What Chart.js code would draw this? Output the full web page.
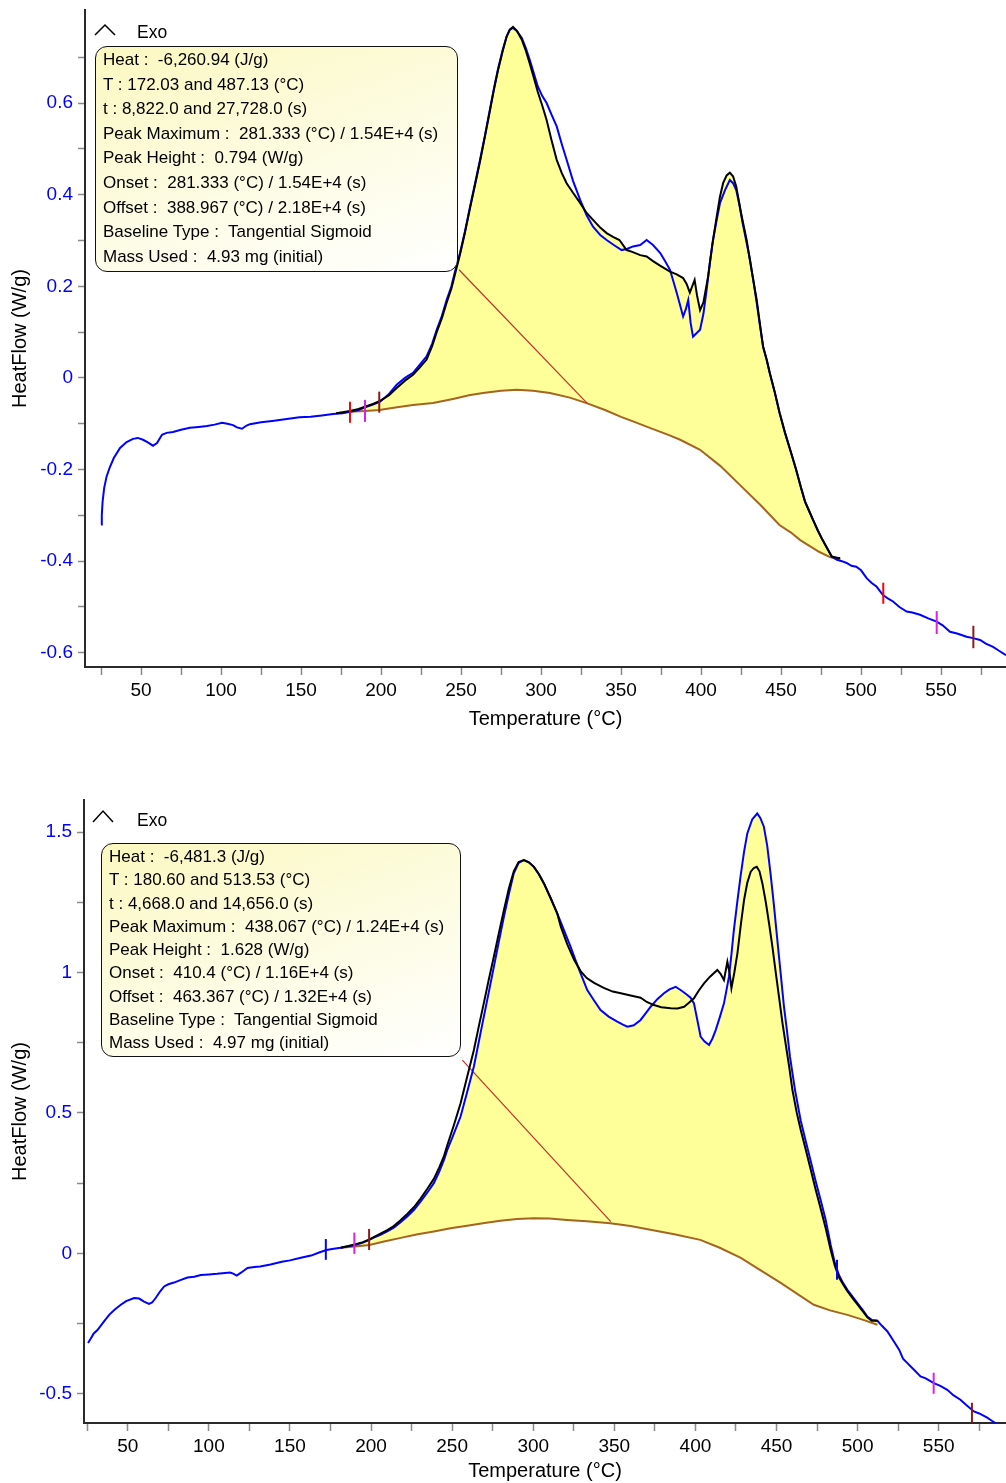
<!DOCTYPE html>
<html>
<head>
<meta charset="utf-8">
<script src="https://cdn.jsdelivr.net/npm/chart.js@4.4.0/dist/chart.umd.min.js"></script>
<style>
  body { margin: 0; background: #fff; width: 1006px; height: 1483px; position: relative; overflow: hidden;
         font-family: "Liberation Sans", Arial, sans-serif; }
  canvas { position: absolute; left: 0; }
  .note { position: absolute; box-sizing: border-box; border: 1.5px solid #111; border-radius: 12px;
          background: linear-gradient(160deg, #fbf8c0 0%, #fdfce4 55%, #ffffff 100%);
          font-size: 17px; color: #000; padding-left: 7px; white-space: nowrap; }
  .exo { position: absolute; font-size: 17.5px; line-height: 20px; }
  svg.caret { position: absolute; left: 0; overflow: visible; }
</style>
</head>
<body>
<canvas id="topChart" width="1006" height="745" style="top:0"></canvas>
<canvas id="botChart" width="1006" height="738" style="top:745px"></canvas>

<svg class="caret" width="30" height="20" style="top:0"><polyline points="95,35 105,25 115,35" fill="none" stroke="#000" stroke-width="1.5"/></svg>
<div class="exo" style="left:137px;top:22px">Exo</div>
<div class="note" style="left:95px;top:46px;width:363px;height:226px;line-height:24.6px;padding-top:1px">
Heat :&nbsp; -6,260.94 (J/g)<br>T : 172.03 and 487.13 (°C)<br>t : 8,822.0 and 27,728.0 (s)<br>Peak Maximum :&nbsp; 281.333 (°C) / 1.54E+4 (s)<br>Peak Height :&nbsp; 0.794 (W/g)<br>Onset :&nbsp; 281.333 (°C) / 1.54E+4 (s)<br>Offset :&nbsp; 388.967 (°C) / 2.18E+4 (s)<br>Baseline Type :&nbsp; Tangential Sigmoid<br>Mass Used :&nbsp; 4.93 mg (initial)
</div>

<svg class="caret" width="30" height="20" style="top:0"><polyline points="93,822 103,811 113,822" fill="none" stroke="#000" stroke-width="1.5"/></svg>
<div class="exo" style="left:137px;top:810px">Exo</div>
<div class="note" style="left:101px;top:843px;width:360px;height:214px;line-height:23.3px;padding-top:1px">
Heat :&nbsp; -6,481.3 (J/g)<br>T : 180.60 and 513.53 (°C)<br>t : 4,668.0 and 14,656.0 (s)<br>Peak Maximum :&nbsp; 438.067 (°C) / 1.24E+4 (s)<br>Peak Height :&nbsp; 1.628 (W/g)<br>Onset :&nbsp; 410.4 (°C) / 1.16E+4 (s)<br>Offset :&nbsp; 463.367 (°C) / 1.32E+4 (s)<br>Baseline Type :&nbsp; Tangential Sigmoid<br>Mass Used :&nbsp; 4.97 mg (initial)
</div>

<script>
// ---- axis ticks ----
var xTicks = [25, 50, 75, 100, 125, 150, 175, 200, 225, 250, 275, 300, 325, 350, 375, 400, 425, 450, 475, 500, 525, 550, 575];
var topYTicks = [-0.6, -0.5, -0.4, -0.3, -0.2, -0.1, 0, 0.1, 0.2, 0.3, 0.4, 0.5, 0.6, 0.7];
var botYTicks = [-0.5, -0.25, 0, 0.25, 0.5, 0.75, 1, 1.25, 1.5];

// ---- top run: [temperature °C, heat flow W/g] ----
var topBlue = [
  [25, -0.32], [25.5, -0.30], [26, -0.27], [27, -0.24], [28.5, -0.215], [30.5, -0.195], [33, -0.175], [36.9, -0.153],
  [41, -0.14], [45, -0.133], [48, -0.131], [51.25, -0.135], [54, -0.14], [57.5, -0.148], [60, -0.142], [63.1, -0.124],
  [66, -0.12], [70, -0.118], [75, -0.113], [80.6, -0.109], [86, -0.107], [91.25, -0.105], [96, -0.102], [100.6, -0.098],
  [104, -0.1], [107.5, -0.103], [110, -0.108], [113.1, -0.111], [116, -0.104], [118.1, -0.101], [125, -0.097], [132, -0.094],
  [140, -0.09], [149, -0.086], [156, -0.085], [163, -0.082], [170, -0.079], [176, -0.077], [180.6, -0.074], [186, -0.07],
  [190, -0.064], [195, -0.058], [199.4, -0.052], [205, -0.035], [209.8, -0.015], [215, 0.0], [220, 0.011], [224, 0.028],
  [228.5, 0.047], [232, 0.075], [234.8, 0.105], [238, 0.135], [241, 0.17], [244, 0.2], [246, 0.229], [249.4, 0.273],
  [252.5, 0.32], [255.6, 0.373], [258.8, 0.425], [261.9, 0.476], [265, 0.53], [268, 0.585], [270.5, 0.63], [273, 0.672],
  [276, 0.715], [278.5, 0.745], [280.5, 0.76], [282.5, 0.764], [285, 0.757], [288, 0.742], [290.5, 0.72], [293, 0.694],
  [295.5, 0.665], [298, 0.636], [300.8, 0.615], [303.5, 0.60], [306.5, 0.575], [309.8, 0.549], [313, 0.51], [316, 0.476],
  [320, 0.43], [324.4, 0.389], [328.5, 0.355], [332.5, 0.33], [337, 0.312], [341, 0.301], [345.5, 0.29], [350.4, 0.279],
  [354, 0.282], [357.5, 0.287], [362, 0.29], [366, 0.301], [370, 0.29], [374.4, 0.273], [377.5, 0.255], [380.6, 0.236],
  [382.8, 0.21], [384.8, 0.186], [386.8, 0.16], [388.8, 0.134], [390.5, 0.15], [392, 0.17], [393.5, 0.12], [395, 0.09],
  [397, 0.097], [399.4, 0.105], [401.5, 0.14], [403.5, 0.192], [405.5, 0.25], [407.5, 0.301], [409.8, 0.345], [411.9, 0.382],
  [415, 0.41], [418, 0.432], [420, 0.425], [422, 0.41], [424, 0.378], [426, 0.338], [428.5, 0.295], [430.6, 0.258],
  [432.8, 0.21], [434.8, 0.164], [436.8, 0.115], [438.8, 0.068], [441, 0.04], [443, 0.01], [446, -0.03], [449, -0.075],
  [452.5, -0.12], [456, -0.16], [459.4, -0.2], [462.5, -0.24], [465, -0.27], [467.5, -0.29], [470, -0.31], [473, -0.333],
  [476, -0.354], [479, -0.373], [481.7, -0.39], [485, -0.397], [488, -0.4], [491, -0.404], [494, -0.41], [497, -0.412],
  [500, -0.42], [503.5, -0.437], [506.5, -0.447], [509.8, -0.456], [513.75, -0.474], [517, -0.482], [520, -0.488], [524, -0.5],
  [528.5, -0.51], [532, -0.512], [536.9, -0.517], [542, -0.525], [547.3, -0.532], [551, -0.54], [555.6, -0.554], [560, -0.558],
  [566, -0.565], [570, -0.568], [574.4, -0.572], [578, -0.58], [582.5, -0.587], [586, -0.595], [590.6, -0.605]
];
var topBlack = [
  [172, -0.077], [176, -0.075], [180.6, -0.072], [186, -0.068], [190, -0.063], [195, -0.057], [199.4, -0.05], [205, -0.038],
  [209.8, -0.022], [215, -0.006], [220, 0.007], [224, 0.022], [228.5, 0.04], [232, 0.07], [234.8, 0.1], [238, 0.13],
  [241, 0.164], [244, 0.195], [246, 0.223], [249.4, 0.27], [252.5, 0.318], [255.6, 0.37], [258.8, 0.422], [261.9, 0.473],
  [265, 0.528], [268, 0.582], [270.5, 0.628], [273, 0.67], [276, 0.713], [278.5, 0.745], [280.5, 0.76], [282.5, 0.766],
  [285, 0.757], [288, 0.738], [290.5, 0.714], [293, 0.686], [295.5, 0.655], [298, 0.624], [300.8, 0.594], [303.5, 0.563],
  [306.5, 0.52], [309.8, 0.476], [313, 0.447], [316, 0.425], [320, 0.404], [324.4, 0.382], [328.5, 0.36], [332.5, 0.345],
  [337, 0.328], [341, 0.316], [345, 0.308], [349, 0.301], [353.5, 0.279], [357, 0.275], [362, 0.268], [366, 0.265],
  [370, 0.255], [374.4, 0.245], [380.6, 0.232], [384.8, 0.226], [388.8, 0.218], [391, 0.205], [393, 0.186], [394.5, 0.2],
  [396, 0.214], [397.5, 0.18], [399.4, 0.148], [401.5, 0.165], [404.4, 0.221], [407, 0.29], [409.8, 0.352], [411.8, 0.395],
  [413.8, 0.425], [416, 0.442], [418, 0.448], [420, 0.44], [422, 0.418], [425, 0.36], [428.5, 0.301], [431.6, 0.235],
  [434.8, 0.17], [436.8, 0.118], [438.8, 0.068], [441, 0.04], [443, 0.01], [446, -0.03], [449, -0.075], [452.5, -0.12],
  [456, -0.16], [459.4, -0.2], [462.5, -0.24], [465, -0.27], [467.5, -0.29], [470, -0.31], [473, -0.333], [476, -0.354],
  [479, -0.373], [481.7, -0.39], [485.6, -0.393], [487, -0.393]
];
var topBase = [
  [172, -0.077], [180.6, -0.074], [190, -0.072], [199, -0.07], [210, -0.064], [220, -0.059], [232.5, -0.055], [245, -0.046],
  [255, -0.038], [263.75, -0.033], [275, -0.028], [284.8, -0.026], [295, -0.028], [305.6, -0.033], [318, -0.043], [328.5, -0.055],
  [340, -0.07], [350, -0.085], [357.5, -0.095], [368, -0.109], [380, -0.125], [387, -0.135], [399.4, -0.157], [412, -0.192],
  [424.4, -0.234], [437, -0.277], [449, -0.321], [456, -0.337], [462, -0.354], [468, -0.367], [474, -0.38], [480.6, -0.391],
  [487, -0.397]
];
var topTangent = [[248.75, 0.236], [328.75, -0.055]];
var topMarkT = [180.6, 190, 198.9, 513.9, 547.3, 570.2];
var topMarkLo = [-0.098, -0.096, -0.076, -0.493, -0.559, -0.59];
var topMarkHi = [-0.052, -0.048, -0.03, -0.447, -0.509, -0.541];

// ---- bottom run ----
var botBlue = [
  [25.5, -0.319], [27, -0.305], [29, -0.285], [31.3, -0.273], [35, -0.245], [38.5, -0.219], [42, -0.2], [45.7, -0.183],
  [49, -0.17], [53.9, -0.159], [57, -0.161], [60, -0.172], [63.1, -0.18], [65, -0.175], [67.2, -0.159], [70, -0.135],
  [72.4, -0.118], [75, -0.11], [78.5, -0.104], [82, -0.096], [86.8, -0.086], [91, -0.083], [95, -0.077], [100, -0.075],
  [105, -0.073], [110, -0.07], [113.1, -0.068], [115, -0.072], [117.2, -0.079], [120, -0.068], [123.8, -0.052], [128, -0.049],
  [131.6, -0.047], [138, -0.04], [145, -0.03], [150, -0.025], [156.7, -0.016], [163, -0.008], [168, 0.003], [172.5, 0.012],
  [177, 0.016], [181.3, 0.02], [186, 0.025], [190, 0.03], [195, 0.038], [199, 0.048], [202, 0.057], [205.8, 0.066],
  [210, 0.078], [214, 0.091], [218, 0.11], [222.3, 0.131], [226.5, 0.155], [230.5, 0.184], [234.5, 0.215], [238.7, 0.25],
  [242, 0.29], [244.9, 0.332], [247, 0.368], [251, 0.425], [255.2, 0.487], [259.3, 0.575], [263.4, 0.665], [266.5, 0.755],
  [269.5, 0.842], [272.6, 0.93], [275.7, 1.02], [278.8, 1.11], [281.9, 1.198], [285, 1.28], [288, 1.353], [291, 1.39],
  [294.2, 1.40], [297.3, 1.392], [300.4, 1.376], [303.5, 1.35], [306.6, 1.317], [310.7, 1.265], [314.8, 1.21], [319, 1.15],
  [323, 1.092], [326, 1.045], [329.2, 0.997], [333.3, 0.937], [337.5, 0.9], [341.5, 0.866], [346.5, 0.843], [351.8, 0.825],
  [355, 0.815], [358, 0.807], [362, 0.812], [366.2, 0.831], [370, 0.86], [372.4, 0.878], [376.5, 0.905], [380.6, 0.926],
  [384, 0.94], [387.8, 0.949], [391.5, 0.935], [395, 0.92], [397, 0.91], [399.1, 0.89], [401.2, 0.83], [403.2, 0.772],
  [405.5, 0.755], [408.4, 0.742], [410.5, 0.765], [412.5, 0.795], [415, 0.84], [417.6, 0.89], [420.7, 0.985], [422.3, 1.07],
  [423.7, 1.151], [425.8, 1.25], [427.8, 1.341], [430, 1.43], [432, 1.495], [435, 1.545], [438.1, 1.566], [440, 1.55],
  [442.2, 1.519], [444.3, 1.45], [446.3, 1.353], [448.4, 1.24], [450.5, 1.116], [452.5, 1.0], [454.6, 0.878], [456.5, 0.79],
  [458.3, 0.70], [461.4, 0.582], [464.9, 0.473], [468, 0.4], [471, 0.331], [474, 0.26], [477.2, 0.19], [480.3, 0.12],
  [483.4, 0.03], [486, -0.035], [488.5, -0.077], [491, -0.105], [493.7, -0.13], [497, -0.155], [499.9, -0.177], [503, -0.2],
  [506, -0.225], [508.7, -0.237], [512.2, -0.24], [515, -0.258], [518.4, -0.278], [522, -0.31], [525.6, -0.343], [528, -0.375],
  [530.7, -0.391], [534, -0.41], [538.8, -0.438], [542, -0.445], [547, -0.462], [551, -0.472], [555.3, -0.486], [559, -0.505],
  [563.4, -0.521], [567, -0.54], [571.7, -0.563], [575, -0.57], [579.9, -0.585], [583, -0.597], [586, -0.608]
];
var botBlack = [
  [181.3, 0.02], [186, 0.026], [190, 0.032], [195, 0.04], [199, 0.05], [205.8, 0.07], [210, 0.083], [214, 0.097],
  [218, 0.117], [222.3, 0.14], [226.5, 0.165], [230.5, 0.195], [234.5, 0.228], [238.7, 0.265], [242, 0.305], [244.9, 0.345],
  [247, 0.385], [251, 0.455], [255.2, 0.534], [259.3, 0.63], [263.4, 0.724], [266.5, 0.81], [269.5, 0.89], [272.6, 0.975],
  [275.7, 1.056], [278.8, 1.14], [281.9, 1.222], [285, 1.3], [288, 1.36], [291, 1.393], [294.2, 1.40], [297.3, 1.392],
  [300.4, 1.376], [303.5, 1.35], [306.6, 1.317], [310.7, 1.265], [314.8, 1.21], [317, 1.163], [321, 1.1], [325.2, 1.045],
  [329.2, 1.005], [333, 0.98], [337.5, 0.963], [343.5, 0.945], [349, 0.932], [354, 0.926], [360, 0.918], [366.2, 0.91],
  [370, 0.895], [374.4, 0.884], [379, 0.876], [384.8, 0.873], [389, 0.872], [393, 0.878], [396, 0.892], [399.1, 0.908],
  [402, 0.935], [405.3, 0.961], [409, 0.985], [413.5, 1.009], [415.5, 0.995], [417.6, 0.973], [419.7, 1.038], [421, 1.0],
  [422.2, 0.944], [424, 1.0], [425.9, 1.068], [428, 1.17], [430, 1.258], [432, 1.32], [434.1, 1.359], [436, 1.372],
  [437.8, 1.376], [439.5, 1.36], [441.3, 1.317], [443.4, 1.25], [445.4, 1.175], [447.5, 1.09], [449.6, 0.997], [451.6, 0.91],
  [453.7, 0.819], [455.8, 0.74], [457.8, 0.665], [459.8, 0.582], [462.5, 0.5], [464.9, 0.44], [468, 0.37], [471, 0.3],
  [474, 0.23], [477.2, 0.16], [480.3, 0.09], [483.4, 0.012], [486, -0.045], [488.5, -0.085], [491, -0.11], [493.7, -0.135],
  [497, -0.16], [499.9, -0.182], [503, -0.205], [506, -0.228], [508.7, -0.24], [512.2, -0.24]
];
var botBase = [
  [181.3, 0.02], [190, 0.024], [199, 0.03], [208, 0.042], [218.3, 0.055], [228, 0.067], [238.7, 0.078], [249, 0.089],
  [259.2, 0.098], [270, 0.108], [279.7, 0.116], [290, 0.122], [300.3, 0.125], [310, 0.124], [320.8, 0.119], [333, 0.114],
  [347.5, 0.107], [360, 0.097], [372.2, 0.084], [387, 0.068], [403, 0.048], [415, 0.02], [428, -0.016], [440, -0.06],
  [452.6, -0.105], [463, -0.145], [473, -0.183], [483, -0.203], [493.7, -0.219], [503, -0.236], [512.2, -0.254]
];
var botTangent = [[256.3, 0.688], [347.8, 0.113]];
var botMarkT = [172.1, 189.7, 198.8, 487.3, 546.9, 570.5];
var botMarkLo = [-0.023, -0.002, 0.012, -0.094, -0.5, -0.603];
var botMarkHi = [0.051, 0.074, 0.087, -0.023, -0.425, -0.532];

// ---- styles ----
var topMarkColors = ['#ff0000', '#e020e0', '#8b1a1a', '#ff0000', '#e020e0', '#8b1a1a'];
var botMarkColors = ['#0000ff', '#e020e0', '#8b1a1a', '#0000ff', '#e020e0', '#8b1a1a'];

Chart.defaults.font.family = '"Liberation Sans", Arial, sans-serif';

function pts(arr) {
  return arr.map(p => ({ x: p[0], y: p[1] }));
}

function line(data, color, width, order) {
  return { data: pts(data), borderColor: color, borderWidth: width, pointRadius: 0, fill: false, tension: 0, order: order };
}

function makeChart(id, c) {
  var datasets = [
    // 0: integrated area (upper curve down to the baseline at index 1)
    { data: pts(c.upper), borderWidth: 0, pointRadius: 0, fill: { target: 1 }, backgroundColor: '#ffff99', order: 9 },
    line(c.base, '#a3651f', 2, 8),
    line(c.tangent, '#c0302a', 1.2, 7),
    line(c.blue, '#0000ff', 2, 3),
    line(c.black, '#000000', 2, 2)
  ];
  c.markT.forEach((t, i) => {
    datasets.push(line([[t, c.markLo[i]], [t, c.markHi[i]]], c.markColors[i], 2, 1));
  });

  var labelX = v => (v % 50 === 0 ? String(v) : '');
  var labelY = v => {
    var k = v / c.yMajor;
    return Math.abs(k - Math.round(k)) < 1e-6 ? String(Number(v.toFixed(2))) : '';
  };

  return new Chart(document.getElementById(id), {
    type: 'line',
    data: { datasets: datasets },
    options: {
      responsive: false,
      animation: false,
      devicePixelRatio: 1,
      layout: { padding: { top: c.padTop, left: 0, right: 0, bottom: 0 } },
      plugins: { legend: { display: false }, tooltip: { enabled: false } },
      scales: {
        x: {
          type: 'linear', min: c.xMin, max: c.xMax,
          afterBuildTicks: s => { s.ticks = xTicks.map(v => ({ value: v })); },
          afterFit: s => { s.height = c.xAxisH; s.paddingLeft = 0; s.paddingRight = 0; },
          ticks: { callback: labelX, color: '#000', font: { size: 19 }, padding: 4, maxRotation: 0, autoSkip: false },
          grid: { drawOnChartArea: false, drawTicks: true, tickLength: 8, color: '#8a8a8a', tickWidth: 1.5 },
          border: { color: '#2a2a2a', width: 2 },
          title: { display: true, text: 'Temperature (°C)', color: '#000', font: { size: 20 }, padding: { top: 0, bottom: c.xTitlePad } }
        },
        y: {
          type: 'linear', min: c.yMin, max: c.yMax,
          afterBuildTicks: s => { s.ticks = c.yTicks.map(v => ({ value: v })); },
          afterFit: s => { s.width = c.yAxisW; s.paddingTop = 0; s.paddingBottom = 0; },
          ticks: { callback: labelY, color: '#0000ff', font: { size: 19 }, padding: 5, autoSkip: false },
          grid: { drawOnChartArea: false, drawTicks: true, tickLength: 7, color: '#8a8a8a', tickWidth: 1.5 },
          border: { color: '#2a2a2a', width: 2 },
          title: { display: true, text: 'HeatFlow (W/g)', color: '#000', font: { size: 20 }, padding: { top: 8, bottom: 0 } }
        }
      }
    }
  });
}

makeChart('topChart', {
  upper: topBlack, base: topBase, tangent: topTangent, blue: topBlue, black: topBlack,
  markT: topMarkT, markLo: topMarkLo, markHi: topMarkHi, markColors: topMarkColors,
  xMin: 15, xMax: 590.6, yMin: -0.631, yMax: 0.803, yTicks: topYTicks, yMajor: 0.2,
  padTop: 10, xAxisH: 78, yAxisW: 85, xTitlePad: 14
});

makeChart('botChart', {
  upper: botBlue.filter(p => p[0] >= 181.3 && p[0] <= 512.2), base: botBase, tangent: botTangent, blue: botBlue, black: botBlack,
  markT: botMarkT, markLo: botMarkLo, markHi: botMarkHi, markColors: botMarkColors,
  xMin: 23, xMax: 591.5, yMin: -0.604, yMax: 1.614, yTicks: botYTicks, yMajor: 0.5,
  padTop: 55, xAxisH: 60, yAxisW: 84, xTitlePad: 0
});
</script>
</body>
</html>
